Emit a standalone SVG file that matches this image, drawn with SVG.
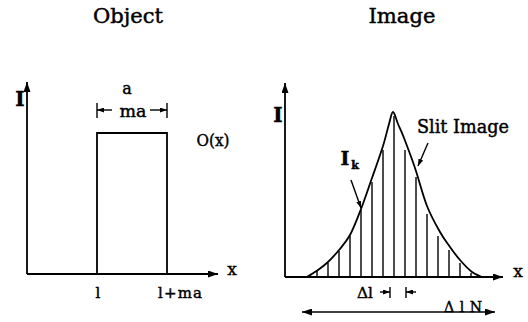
<svg xmlns="http://www.w3.org/2000/svg" width="528" height="322" viewBox="0 0 528 322">
<style>
.ln{stroke:#000;stroke-width:1.8;fill:none}
.th{stroke:#000;stroke-width:1.4;fill:none}
.t{font-family:"DejaVu Serif","Liberation Serif",serif;fill:#000;stroke:#000;stroke-width:0.45}
</style>
<defs>
<marker id="ah" markerUnits="userSpaceOnUse" markerWidth="10" markerHeight="7" refX="10" refY="3.5" orient="auto"><path d="M0,0 L10,3.5 L0,7 z" fill="#000"/></marker>
<marker id="sm" markerUnits="userSpaceOnUse" markerWidth="7" markerHeight="5" refX="7" refY="2.5" orient="auto"><path d="M0,0 L7,2.5 L0,5 z" fill="#000"/></marker>
</defs>
<rect width="528" height="322" fill="#fff"/>

<g id="object-panel">
<text class="t" x="128" y="23" font-size="21" text-anchor="middle" textLength="70" lengthAdjust="spacingAndGlyphs">Object</text>
<text class="t" x="20" y="106" font-size="20" font-weight="bold" text-anchor="middle">I</text>
<text class="t" x="127" y="94" font-size="16" text-anchor="middle">a</text>
<text class="t" x="133" y="117" font-size="17" text-anchor="middle" textLength="27" lengthAdjust="spacingAndGlyphs">ma</text>
<text class="t" x="213" y="146" font-size="17" text-anchor="middle" textLength="33" lengthAdjust="spacingAndGlyphs">O(x)</text>
<text class="t" x="232" y="275" font-size="17" text-anchor="middle">x</text>
<text class="t" x="98" y="298" font-size="15" text-anchor="middle">l</text>
<text class="t" x="180" y="298" font-size="15" text-anchor="middle" textLength="44" lengthAdjust="spacing">l+ma</text>
</g>

<g id="object-rect">
<path class="ln" d="M97,274 V133 H167 V274"/>
</g>

<g id="image-panel">
<text class="t" x="402" y="23" font-size="21" text-anchor="middle" textLength="67" lengthAdjust="spacingAndGlyphs">Image</text>
<text class="t" x="278" y="122" font-size="20" font-weight="bold" text-anchor="middle">I</text>
<text class="t" x="518" y="277" font-size="17" text-anchor="middle">x</text>
<text class="t" x="463" y="133" font-size="18" text-anchor="middle" textLength="92" lengthAdjust="spacingAndGlyphs">Slit Image</text>
<text class="t" x="345" y="165" font-size="19" font-weight="bold" text-anchor="middle">I</text>
<text class="t" x="355" y="169" font-size="11" font-weight="bold" text-anchor="middle">k</text>
<text class="t" x="365" y="298" font-size="15" text-anchor="middle" textLength="16" lengthAdjust="spacingAndGlyphs">Δl</text>
<text class="t" x="463" y="312" font-size="14" text-anchor="middle" textLength="38" lengthAdjust="spacing">ΔlN</text>
</g>

<g id="slit-image">
<path class="ln" d="M307,277 C308.8,275.8 314.5,272.5 318,270 C321.5,267.5 324.5,265.3 328,262 C331.5,258.7 335.3,254.5 339,250 C342.7,245.5 346.3,241.8 350,235 C353.7,228.2 357.3,218.5 361,209 C364.7,199.5 368.3,188.5 372,178 C375.7,167.5 380.2,155 383,146 C385.8,137 387.3,129.7 389,124 C390.7,118.3 391.5,112 393,112 C394.5,112 396.2,119.7 398,124 C399.8,128.3 401.2,130.7 404,138 C406.8,145.3 411.2,156.7 415,168 C418.8,179.3 422.8,195.3 427,206 C431.2,216.7 436.2,225.2 440,232 C443.8,238.8 446.7,242.3 450,247 C453.3,251.7 456.3,255.8 460,260 C463.7,264.2 468.3,269.2 472,272 C475.7,274.8 480.3,276.2 482,277"/>
<g class="th">
<line x1="317" y1="277" x2="317" y2="270"/>
<line x1="328" y1="277" x2="328" y2="263"/>
<line x1="339" y1="277" x2="339" y2="251"/>
<line x1="350" y1="277" x2="350" y2="236"/>
<line x1="361" y1="277" x2="361" y2="210"/>
<line x1="372" y1="277" x2="372" y2="182"/>
<line x1="383" y1="277" x2="383" y2="150"/>
<line x1="394" y1="277" x2="394" y2="116"/>
<line x1="405" y1="277" x2="405" y2="150"/>
<line x1="416" y1="277" x2="416" y2="177"/>
<line x1="427" y1="277" x2="427" y2="214"/>
<line x1="438" y1="277" x2="438" y2="236"/>
<line x1="449" y1="277" x2="449" y2="250"/>
<line x1="460" y1="277" x2="460" y2="263"/>
<line x1="471" y1="277" x2="471" y2="273"/>
</g>
</g>

<g id="connectors">
<line class="ln" x1="27" y1="274" x2="27" y2="82" marker-end="url(#ah)"/>
<line class="ln" x1="27" y1="274" x2="218" y2="274" marker-end="url(#ah)"/>
<line class="ln" x1="285" y1="277" x2="285" y2="83" marker-end="url(#ah)"/>
<line class="ln" x1="285" y1="277" x2="503" y2="277" marker-end="url(#ah)"/>
<line class="th" x1="97" y1="103" x2="97" y2="118"/>
<line class="th" x1="167" y1="103" x2="167" y2="118"/>
<line class="th" x1="112" y1="110" x2="97" y2="110" marker-end="url(#sm)"/>
<line class="th" x1="150" y1="110" x2="167" y2="110" marker-end="url(#sm)"/>
<line class="th" x1="351" y1="180" x2="361" y2="208" marker-end="url(#sm)"/>
<line class="th" x1="428" y1="143" x2="418" y2="166" marker-end="url(#sm)"/>
<line class="th" x1="390" y1="287" x2="390" y2="298"/>
<line class="th" x1="406" y1="287" x2="406" y2="298"/>
<line class="th" x1="380" y1="292" x2="390" y2="292" marker-end="url(#sm)"/>
<line class="th" x1="416" y1="292" x2="406" y2="292" marker-end="url(#sm)"/>
<line class="th" x1="400" y1="312" x2="302" y2="312" marker-end="url(#ah)"/>
<line class="th" x1="400" y1="312" x2="495" y2="312" marker-end="url(#ah)"/>
</g>
</svg>
